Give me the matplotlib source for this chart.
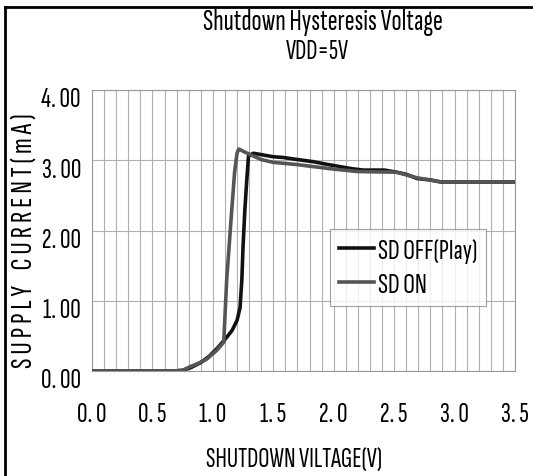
import matplotlib
matplotlib.use('Agg')
import matplotlib.pyplot as plt
import matplotlib.transforms as mtransforms
from matplotlib.lines import Line2D

# SD OFF (Play) curve
off_v = [0.0, 0.68, 0.75, 0.82, 0.90, 0.97, 1.04, 1.11, 1.16, 1.20, 1.225, 1.24, 1.25, 1.265, 1.28,
         1.295, 1.335, 1.40, 1.50, 1.58, 1.70, 1.83, 1.95, 2.05, 2.15, 2.245, 2.30, 2.42, 2.52, 2.60,
         2.69, 2.80, 2.89, 3.5]
off_i = [0.0, 0.0, 0.01, 0.05, 0.12, 0.21, 0.33, 0.47, 0.58, 0.72, 0.90, 1.30, 1.78, 2.30, 2.70,
         3.06, 3.10, 3.08, 3.05, 3.04, 3.01, 2.98, 2.94, 2.91, 2.88, 2.86, 2.86, 2.86, 2.83, 2.80,
         2.74, 2.72, 2.69, 2.69]
# SD ON curve
on_v = [0.0, 0.68, 0.75, 0.81, 0.88, 0.95, 1.03, 1.09, 1.115, 1.155, 1.18, 1.20, 1.215, 1.26, 1.31,
        1.40, 1.50, 1.69, 1.97, 2.19, 2.52, 2.69, 2.89, 3.5]
on_i = [0.0, 0.0, 0.01, 0.06, 0.11, 0.17, 0.29, 0.41, 1.31, 2.26, 2.83, 3.10, 3.16, 3.12, 3.08,
        3.01, 2.97, 2.94, 2.88, 2.84, 2.83, 2.75, 2.69, 2.69]

x_ticks = [0.0, 0.5, 1.0, 1.5, 2.0, 2.5, 3.0, 3.5]
x_ticklabels = ['0. 0', '0. 5', '1. 0', '1. 5', '2. 0', '2. 5', '3. 0', '3. 5']
y_ticks = [0, 1, 2, 3, 4]
y_ticklabels = ['0. 00', '1. 00', '2. 00', '3. 00', '4. 00']

plt.rcParams['font.family'] = ['Sofia Sans Extra Condensed', 'Pathway Gothic One', 'DejaVu Sans']
plt.rcParams['font.weight'] = 'light'

fig = plt.figure(figsize=(5.33, 4.77), dpi=100)
ax = fig.add_axes([0.1726, 0.2201, 0.7936, 0.5891])

ax.plot(off_v, off_i, color='#111111', lw=2.6, solid_joinstyle='round', zorder=3)
ax.plot(on_v, on_i, color='#555555', lw=2.6, solid_joinstyle='round', zorder=4)

ax.set_xlim(0, 3.5)
ax.set_ylim(0, 4)
ax.set_xticks(x_ticks)
ax.set_xticklabels(x_ticklabels, fontsize=21)
ax.set_xticks([i / 10 for i in range(36)], minor=True)
ax.set_yticks(y_ticks)
ax.set_yticklabels(y_ticklabels, fontsize=21)
ax.tick_params(axis='both', which='both', length=0)
ax.tick_params(axis='x', pad=22)
ax.tick_params(axis='y', pad=8)
for lab in ax.get_yticklabels():
    lab.set_transform(lab.get_transform() + mtransforms.ScaledTranslation(0, -5 / 72, fig.dpi_scale_trans))
ax.grid(which='both', axis='x', color='#b0b0b0', lw=0.8)
ax.grid(which='major', axis='y', color='#b0b0b0', lw=0.8)
ax.set_axisbelow(True)
for s in ax.spines.values():
    s.set_color('#999999')
    s.set_linewidth(0.8)

fig.text(0.552, 0.035, 'SHUTDOWN VILTAGE(V)', ha='center', va='center', fontsize=20)
fig.text(0.045, 0.495, 'S U P P L Y    C U R R E N T ( m A )', rotation=90,
         ha='center', va='center', fontsize=22)

fig.text(0.605, 0.953, 'Shutdown Hysteresis Voltage', ha='center', va='center', fontsize=21.5)
fig.text(0.595, 0.890, 'VDD=5V', ha='center', va='center', fontsize=20)

handles = [Line2D([], [], color='#111111', lw=2.6), Line2D([], [], color='#555555', lw=2.6)]
leg = ax.legend(handles, ['SD OFF(Play)', 'SD ON'], loc='upper left',
                bbox_to_anchor=(0.563, 0.505), borderaxespad=0, fontsize=21, frameon=True,
                fancybox=False, handlelength=1.2, handletextpad=0.15, borderpad=0.3,
                labelspacing=0.3)
leg.get_frame().set_edgecolor('#888888')
leg.get_frame().set_linewidth(0.8)

# outer frame (left and top edges visible)
fig.add_artist(Line2D([5 / 533, 5 / 533], [0, 1 - 8 / 477], transform=fig.transFigure, color='black', lw=2))
fig.add_artist(Line2D([5 / 533, 1], [1 - 8 / 477, 1 - 8 / 477], transform=fig.transFigure, color='black', lw=2))

fig.savefig('out.png', dpi=100)
